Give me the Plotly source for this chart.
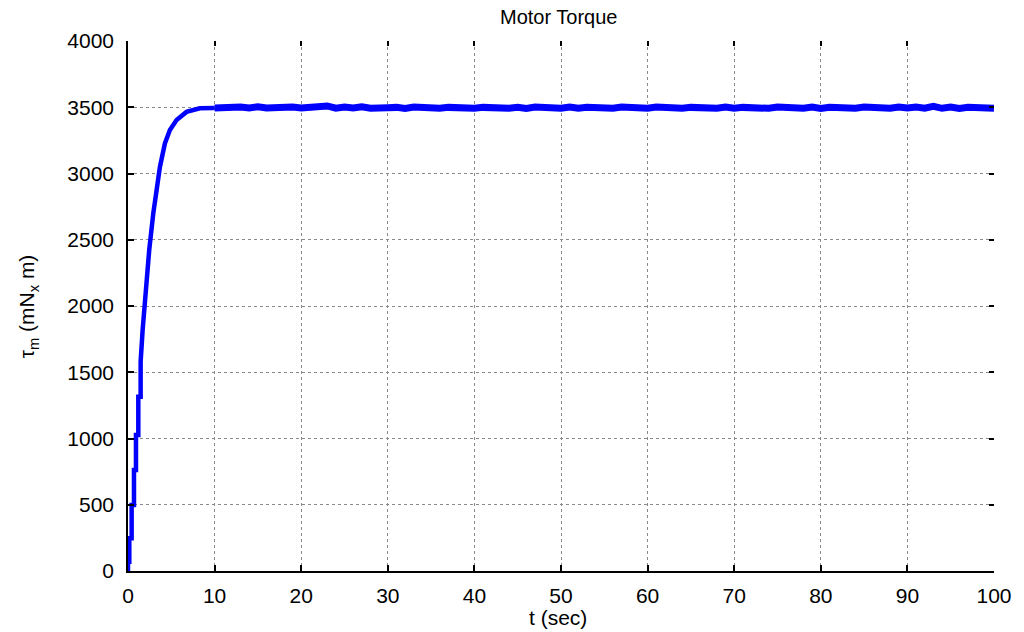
import plotly.graph_objects as go

# ---- data ----
t_rise = [0, 0, 0.15, 0.15, 0.42, 0.42, 0.69, 0.69, 0.92, 0.92, 1.19, 1.19,
          1.46, 1.46, 1.69, 1.96, 2.07, 2.45, 2.92, 3.30, 3.69, 4.26, 4.84,
          5.61, 6.76, 8.29, 9.2, 10]
v_rise = [0, 70, 70, 247, 247, 498, 498, 762, 762, 1026, 1026, 1315,
          1315, 1580, 1820, 2045, 2196, 2423, 2700, 2900, 3051, 3227, 3328,
          3403, 3465, 3492, 3496, 3494]

t_steady = [10, 11, 12, 13, 14, 15, 16, 17, 18, 19, 20, 21, 22, 23, 24, 25,
            26, 27, 28, 29, 30, 31, 32, 33, 34, 35, 36, 37, 38, 39, 40, 41,
            42, 43, 44, 45, 46, 47, 48, 49, 50, 51, 52, 53, 54, 55, 56, 57,
            58, 59, 60, 61, 62, 63, 64, 65, 66, 67, 68, 69, 70, 71, 72, 73,
            74, 75, 76, 77, 78, 79, 80, 81, 82, 83, 84, 85, 86, 87, 88, 89,
            90, 91, 92, 93, 94, 95, 96, 97, 98, 99, 100]
v_steady = [3494, 3500, 3493, 3502, 3495, 3503, 3494, 3499, 3492, 3501,
            3495, 3500, 3494, 3510, 3493, 3501, 3495, 3503, 3492, 3500,
            3496, 3499, 3491, 3501, 3494, 3500, 3493, 3499, 3495, 3502,
            3492, 3499, 3495, 3501, 3493, 3500, 3491, 3501, 3494, 3499,
            3493, 3502, 3492, 3500, 3495, 3499, 3492, 3501, 3494, 3499,
            3493, 3501, 3494, 3500, 3492, 3499, 3495, 3501, 3493, 3502,
            3493, 3499, 3494, 3500, 3492, 3501, 3494, 3499, 3493, 3501,
            3491, 3500, 3495, 3499, 3493, 3501, 3494, 3500, 3492, 3502,
            3494, 3501, 3493, 3507, 3492, 3501, 3490, 3500, 3494, 3499,
            3493]

x_ticks = [0, 10, 20, 30, 40, 50, 60, 70, 80, 90, 100]
y_ticks = [0, 500, 1000, 1500, 2000, 2500, 3000, 3500, 4000]

title_text = "Motor Torque"
x_label = "t (sec)"
y_label = "τ<sub>m</sub> (mN<sub>x</sub> m)"

FONT = "Liberation Sans, Arial, sans-serif"

fig = go.Figure()
fig.add_trace(go.Scatter(x=t_rise, y=v_rise,
                         mode="lines", line=dict(color="#0000ff", width=4.5),
                         showlegend=False, hoverinfo="skip"))
fig.add_trace(go.Scatter(x=t_steady, y=v_steady,
                         mode="lines", line=dict(color="#0000ff", width=7),
                         showlegend=False, hoverinfo="skip"))
# dummy trace so the mirrored (top/right) tick axes are drawn
fig.add_trace(go.Scatter(x=[], y=[], xaxis="x2", yaxis="y2",
                         showlegend=False, hoverinfo="skip"))

grid = dict(showgrid=True, gridcolor="#8a8a8a", griddash="dot", gridwidth=1)

fig.update_layout(
    width=1024, height=632,
    margin=dict(l=128, r=27, t=41, b=61),
    paper_bgcolor="white", plot_bgcolor="white",
    font=dict(family=FONT, color="black", size=20),
    xaxis=dict(range=[0, 100], tickvals=x_ticks, ticks="inside", ticklen=6,
               tickwidth=1.5, tickcolor="black", showline=True,
               linecolor="black", linewidth=1.5, zeroline=False,
               tickfont=dict(size=21), ticklabelstandoff=5, **grid),
    yaxis=dict(range=[0, 4000], tickvals=y_ticks, ticks="inside", ticklen=6,
               tickwidth=1.5, tickcolor="black", showline=True,
               linecolor="black", linewidth=1.5, zeroline=False,
               tickfont=dict(size=21), ticklabelstandoff=8, **grid),
    xaxis2=dict(overlaying="x", side="top", matches="x", range=[0, 100],
                tickvals=x_ticks, ticks="inside", ticklen=5, tickwidth=1.5,
                tickcolor="black", showticklabels=False, showgrid=False,
                showline=False, zeroline=False),
    yaxis2=dict(overlaying="y", side="right", matches="y", range=[0, 4000],
                tickvals=y_ticks, ticks="inside", ticklen=5, tickwidth=1.5,
                tickcolor="black", showticklabels=False, showgrid=False,
                showline=False, zeroline=False),
    annotations=[
        dict(text=title_text, xref="paper", yref="paper", x=(560 - 128) / 869,
             y=(571 - 17) / 530, showarrow=False, font=dict(size=20),
             xanchor="center", yanchor="middle"),
        dict(text=x_label, xref="paper", yref="paper", x=(559 - 128) / 869,
             y=(571 - 617) / 530, showarrow=False, font=dict(size=21),
             xanchor="center", yanchor="middle"),
        dict(text=y_label, xref="paper", yref="paper", x=(28 - 128) / 869,
             y=0.5, showarrow=False, font=dict(size=21), textangle=-90,
             xanchor="center", yanchor="middle"),
    ],
)

fig.write_html("out.html")
